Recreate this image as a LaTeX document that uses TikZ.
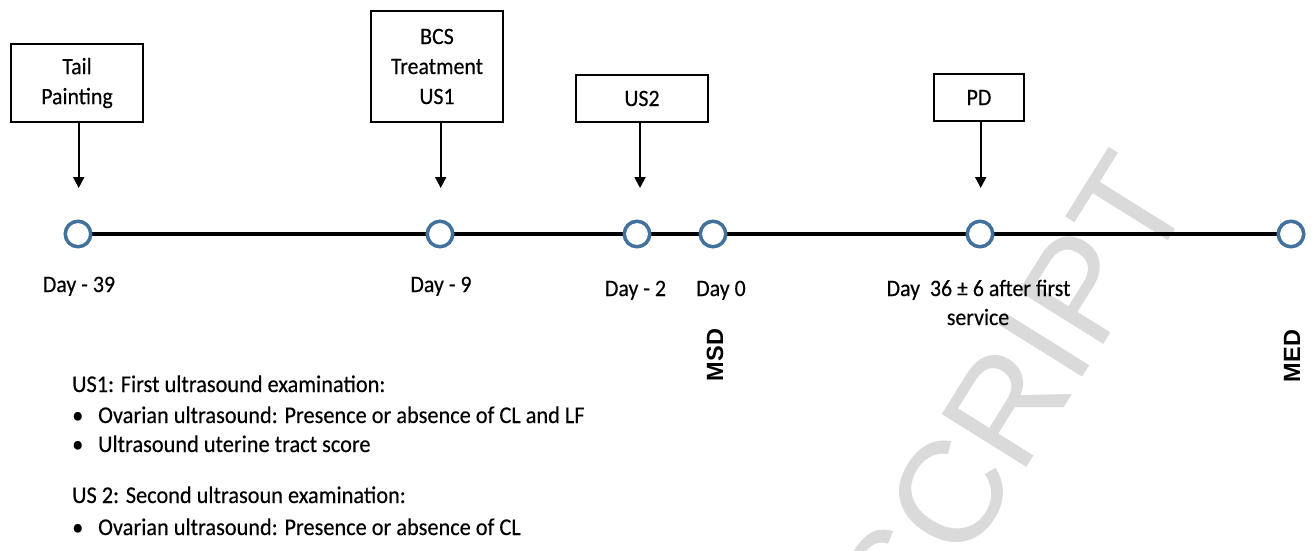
\documentclass[tikz,border=0pt]{standalone}
\usepackage{fontspec}
\setmainfont{Carlito}[FakeStretch=0.93,FakeBold=0.3]
\newfontfamily\arialfont{Liberation Sans}
\usetikzlibrary{arrows.meta,backgrounds}
\definecolor{ringblue}{HTML}{41719C}
\definecolor{wmgray}{HTML}{DADADA}
\tikzset{
  box/.style={draw, line width=2.6pt, minimum width=132pt, inner sep=0pt, align=center,
    font=\fontsize{23.5}{30}\selectfont},
  ring/.style={circle, draw=ringblue, line width=3.5pt, fill=white, minimum size=25.5pt, inner sep=0pt},
  arr/.style={line width=1.8pt, -{Triangle[length=11pt,width=11pt]}},
  lbl/.style={anchor=base, inner sep=0pt, font=\fontsize{23.5}{29}\selectfont},
  vlab/.style={rotate=90, inner sep=0pt, font=\arialfont\bfseries\fontsize{23.5}{24}\selectfont},
  item/.style={anchor=base west, inner sep=0pt, font=\fontsize{24}{29}\selectfont},
  wm/.style={rotate=58, inner sep=0pt, text=wmgray, font=\arialfont\fontsize{145}{145}\selectfont},
  timeline/.style={line width=4.5pt}
}
\begin{document}
\begin{tikzpicture}[x=1pt,y=-1pt]
\useasboundingbox (0,0) rectangle (1316,550);

% boxes
\node[box, minimum height=78pt] (tail) at (77,83) {Tail\\Painting};
\node[box, minimum height=111pt] (bcs) at (437,66.5) {BCS\\Treatment\\US1};
\node[box, minimum height=47pt] (us2) at (642,98.5) {US2};
\node[box, line width=1.7pt, minimum width=90pt, minimum height=47pt] (pd) at (979,97.5) {PD};

% timeline points
\node[ring] (c1) at (78,234) {};
\node[ring] (c2) at (440,234) {};
\node[ring] (c3) at (637,234) {};
\node[ring] (c4) at (713,234) {};
\node[ring] (c5) at (980,234) {};
\node[ring] (c6) at (1291,234) {};

\begin{pgfonlayer}{background}
  \fill[white] (0,0) rectangle (1316,550);
  \begin{scope}
    \clip (0,0) rectangle (1316,550);
    \node[wm] (wm) at (1012,396) {SCRIPT};
  \end{scope}
  \draw[timeline] (c1.center) -- (c6.center);
\end{pgfonlayer}

% arrows
\coordinate (t1) at (78.7,188);
\coordinate (t2) at (440.7,188);
\coordinate (t3) at (640,188);
\coordinate (t5) at (980.7,188);
\draw[arr] (tail.south -| t1) -- (t1);
\draw[arr] (bcs.south -| t2) -- (t2);
\draw[arr] (us2.south -| t3) -- (t3);
\draw[arr] (pd.south -| t5) -- (t5);

% day labels
\node[lbl] (d1) at (79,292) {Day - 39};
\node[lbl] (d2) at (441,292) {Day - 9};
\node[lbl] (d3) at (635.5,296) {Day - 2};
\node[lbl] (d4) at (721,296) {Day 0};
\node[lbl] (d5) at (978.5,296) {Day~~36 ± 6 after first};
\node[lbl] (d5b) at (978,325) {service};

% vertical labels
\node[vlab] (msd) at (715,355) {MSD};
\node[vlab] (med) at (1292,356) {MED};

% legend
\node[item] (h1) at (72,392) {US1: First ultrasound examination:};
\node[item] (b1) at (72,423) {\makebox[26pt][l]{•}Ovarian ultrasound: Presence or absence of CL and LF};
\node[item] (b2) at (72,452) {\makebox[26pt][l]{•}Ultrasound uterine tract score};
\node[item] (h2) at (72,503) {US 2: Second ultrasoun examination:};
\node[item] (b3) at (72,535) {\makebox[26pt][l]{•}Ovarian ultrasound: Presence or absence of CL};
\end{tikzpicture}
\end{document}
